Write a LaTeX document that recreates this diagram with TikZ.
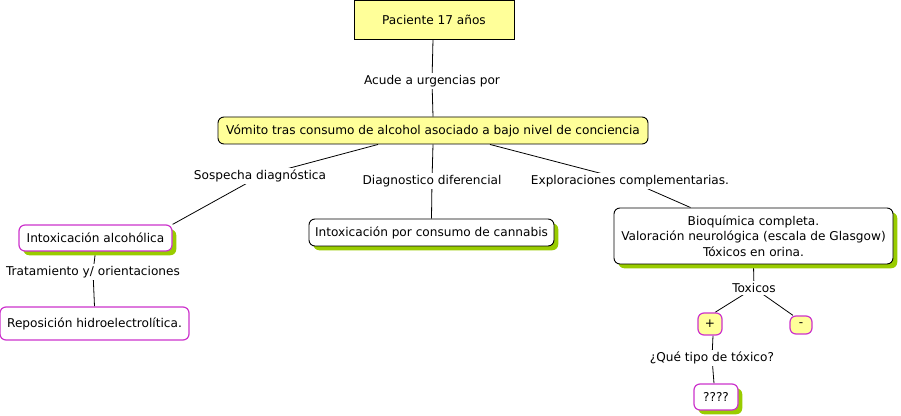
\documentclass[tikz,border=0pt]{standalone}
\usepackage{fontspec}
\setmainfont{DejaVu Sans}
\usetikzlibrary{shadows,backgrounds}
\definecolor{yel}{HTML}{FFFF99}
\definecolor{mag}{HTML}{CC33CC}
\definecolor{shad}{HTML}{99CC00}
\tikzset{
  every node/.style={font=\fontsize{9.1pt}{11.6pt}\selectfont, inner sep=0pt},
  gshadow/.style={drop shadow={shadow xshift=3.2pt, shadow yshift=-3.2pt, fill=shad, opacity=1}},
  rbox/.style={draw, rounded corners=4.5pt, align=center, line width=0.7pt},
  ybox/.style={rbox, fill=yel},
  wbox/.style={rbox, fill=white},
  magbox/.style={draw=mag, line width=0.9pt},
  lbl/.style={fill=white, inner sep=1.5pt},
  conn/.style={line width=0.6pt}
}
\begin{document}
\begin{tikzpicture}[x=0.75pt,y=-0.75pt]
\useasboundingbox (0,0) rectangle (901,416);
% nodes
\node[draw, fill=yel, line width=0.7pt, minimum width=160*0.75pt, minimum height=39*0.75pt] (pac) at (434,19.5) {Paciente 17 años};
\node[ybox, minimum width=430*0.75pt, minimum height=27*0.75pt] (vom) at (433,130.5) {Vómito tras consumo de alcohol asociado a bajo nivel de conciencia};
\node[wbox, magbox, gshadow, minimum width=153*0.75pt, minimum height=26*0.75pt] (alc) at (95.5,238) {Intoxicación alcohólica};
\node[wbox, gshadow, minimum width=245*0.75pt, minimum height=27*0.75pt] (can) at (431.5,232.5) {Intoxicación por consumo de cannabis};
\node[wbox, gshadow, minimum width=279*0.75pt, minimum height=56*0.75pt] (bio) at (753.5,236) {Bioquímica completa.\\Valoración neurológica (escala de Glasgow)\\Tóxicos en orina.};
\node[wbox, magbox, minimum width=189*0.75pt, minimum height=33*0.75pt] (rep) at (94.5,323.5) {Reposición hidroelectrolítica.};
\node[ybox, magbox, minimum width=24*0.75pt, minimum height=22*0.75pt] (pos) at (710,324) {+};
\node[ybox, magbox, minimum width=22*0.75pt, minimum height=18*0.75pt] (neg) at (801,325) {-};
\node[wbox, magbox, gshadow, minimum width=44*0.75pt, minimum height=26*0.75pt] (unk) at (716,397) {????};
% labels
\node[lbl] (acu) at (432,81) {Acude a urgencias por};
\node[lbl] (sos) at (260,176) {Sospecha diagnóstica};
\node[lbl] (dif) at (432,181) {Diagnostico diferencial};
\node[lbl] (exp) at (630,181) {Exploraciones complementarias.};
\node[lbl] (tox) at (754,288) {Toxicos};
\node[lbl] (que) at (712,358) {¿Qué tipo de tóxico?};
\node[lbl] (tra) at (93,272) {Tratamiento y/ orientaciones};
% connectors
\begin{scope}[on background layer]
\draw[conn] ([xshift=-1*0.75pt]pac.south) -- (acu.center) -- (vom.north);
\draw[conn] ([xshift=-55*0.75pt]vom.south) -- (sos.center) -- (alc.north east);
\draw[conn] (vom.south) -- (dif.center) -- (can.north);
\draw[conn] ([xshift=57*0.75pt]vom.south) -- (exp.center) -- ([xshift=-63*0.75pt]bio.north);
\draw[conn] (bio.south) -- (tox.center) -- ([xshift=5*0.75pt]pos.north);
\draw[conn] (tox.center) -- ([xshift=-8*0.75pt]neg.north);
\draw[conn] ([xshift=3*0.75pt]pos.south) -- (que.center) -- ([xshift=-2*0.75pt]unk.north);
\draw[conn] (alc.south) -- (tra.center) -- (rep.north);
\end{scope}
\end{tikzpicture}
\end{document}
